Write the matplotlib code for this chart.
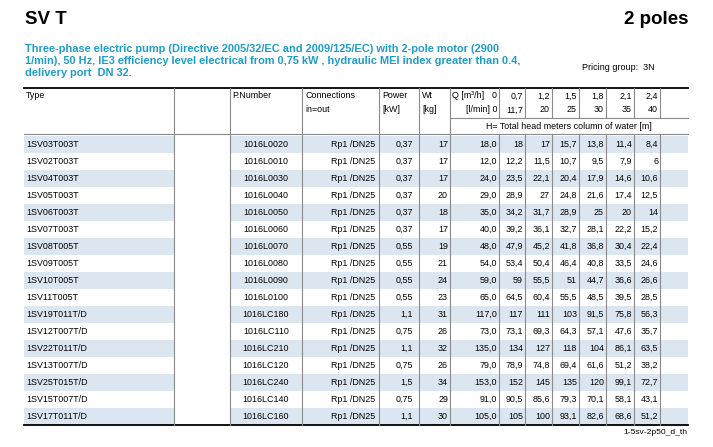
import matplotlib
matplotlib.use("Agg")
import matplotlib.pyplot as plt
from matplotlib.patches import Rectangle

plt.rcParams['font.family'] = ['Liberation Sans', 'DejaVu Sans']

types = ["1SV03T003T", "1SV02T003T", "1SV04T003T", "1SV05T003T", "1SV06T003T",
         "1SV07T003T", "1SV08T005T", "1SV09T005T", "1SV10T005T", "1SV11T005T",
         "1SV19T011T/D", "1SV12T007T/D", "1SV22T011T/D", "1SV13T007T/D",
         "1SV25T015T/D", "1SV15T007T/D", "1SV17T011T/D"]
pnumbers = ["1016L0020", "1016L0010", "1016L0030", "1016L0040", "1016L0050",
            "1016L0060", "1016L0070", "1016L0080", "1016L0090", "1016L0100",
            "1016LC180", "1016LC110", "1016LC210", "1016LC120", "1016LC240",
            "1016LC140", "1016LC160"]
connection = "Rp1 /DN25"
power = ["0,37", "0,37", "0,37", "0,37", "0,37", "0,37", "0,55", "0,55", "0,55",
         "0,55", "1,1", "0,75", "1,1", "0,75", "1,5", "0,75", "1,1"]
weight = [17, 17, 17, 20, 18, 17, 19, 21, 24, 23, 31, 26, 32, 26, 34, 29, 30]
q_m3h = ["0,7", "1,2", "1,5", "1,8", "2,1", "2,4"]
q_lmin = ["11,7", "20", "25", "30", "35", "40"]
head = [
    ["18,0", "18", "17", "15,7", "13,8", "11,4", "8,4"],
    ["12,0", "12,2", "11,5", "10,7", "9,5", "7,9", "6"],
    ["24,0", "23,5", "22,1", "20,4", "17,9", "14,6", "10,6"],
    ["29,0", "28,9", "27", "24,8", "21,6", "17,4", "12,5"],
    ["35,0", "34,2", "31,7", "28,9", "25", "20", "14"],
    ["40,0", "39,2", "36,1", "32,7", "28,1", "22,2", "15,2"],
    ["48,0", "47,9", "45,2", "41,8", "36,8", "30,4", "22,4"],
    ["54,0", "53,4", "50,4", "46,4", "40,8", "33,5", "24,6"],
    ["59,0", "59", "55,5", "51", "44,7", "36,6", "26,6"],
    ["65,0", "64,5", "60,4", "55,5", "48,5", "39,5", "28,5"],
    ["117,0", "117", "111", "103", "91,5", "75,8", "56,3"],
    ["73,0", "73,1", "69,3", "64,3", "57,1", "47,6", "35,7"],
    ["135,0", "134", "127", "118", "104", "86,1", "63,5"],
    ["79,0", "78,9", "74,8", "69,4", "61,6", "51,2", "38,2"],
    ["153,0", "152", "145", "135", "120", "99,1", "72,7"],
    ["91,0", "90,5", "85,6", "79,3", "70,1", "58,1", "43,1"],
    ["105,0", "105", "100", "93,1", "82,6", "68,6", "51,2"],
]

blue_text = ["Three-phase electric pump (Directive 2005/32/EC and 2009/125/EC) with 2-pole motor (2900",
             "1/min), 50 Hz, IE3 efficiency level electrical from 0,75 kW , hydraulic MEI index greater than 0.4,",
             "delivery port  DN 32."]

# ---- layout (pixel coords) ----
W, H = 713, 447
left, right = 24, 688
top_line = 88
hdr_bottom = 134
row_h = 17.0
vlines = [174, 230, 302, 379, 419, 450]
qcols = [450, 499, 525, 552, 579, 606, 634, 660]
shade = "#dce6f1"
grid = "#8a8a8a"
fs = 6.4

fig = plt.figure(figsize=(W / 100, H / 100), dpi=100)
ax = fig.add_axes([0, 0, 1, 1])
ax.set_xlim(0, W)
ax.set_ylim(H, 0)
ax.axis("off")

ax.text(left + 1, 20, "SV T", fontsize=13.5, fontweight="bold", va="center", ha="left")
ax.text(right, 20, "2 poles", fontsize=13.5, fontweight="bold", va="center", ha="right")
for i, line in enumerate(blue_text):
    ax.text(left + 1, 49 + i * 12, line, fontsize=7.9, fontweight="bold",
            color="#1f9dc9", va="center", ha="left")
ax.text(582, 68, "Pricing group:  3N", fontsize=6.5, va="center", ha="left")

# row shading
n = len(types)
y0 = hdr_bottom + 2
for i in range(n):
    if i % 2 == 0:
        y = y0 + i * row_h
        ax.add_patch(Rectangle((left, y), 174 - left, row_h, color=shade, lw=0))
        ax.add_patch(Rectangle((230, y), right - 230, row_h, color=shade, lw=0))
bottom = y0 + n * row_h

# lines
ax.plot([left, right], [top_line, top_line], color="black", lw=1.3)
ax.plot([left, right], [bottom, bottom], color="black", lw=1.3)
ax.plot([left, right], [hdr_bottom, hdr_bottom], color=grid, lw=0.8)
ax.plot([450, right], [118, 118], color=grid, lw=0.8)
for x in vlines:
    ax.plot([x, x], [top_line, bottom], color=grid, lw=0.8)
for x in qcols[1:]:
    ax.plot([x, x], [top_line, 118], color=grid, lw=0.8)
    ax.plot([x, x], [hdr_bottom, bottom], color=grid, lw=0.8)

# header
r1, r2 = 96, 110
ax.text(26, r1, "Type", fontsize=fs, va="center")
ax.text(232, r1, "P.Number", fontsize=fs, va="center")
ax.text(305, r1, "Connections", fontsize=fs, va="center")
ax.text(305, r2, "in=out", fontsize=fs, va="center")
ax.text(382, r1, "Power", fontsize=fs, va="center")
ax.text(382, r2, "[kW]", fontsize=fs, va="center")
ax.text(422, r1, "Wt", fontsize=fs, va="center")
ax.text(422, r2, "[kg]", fontsize=fs, va="center")
ax.text(452, r1, "Q [m³/h]", fontsize=fs, va="center")
ax.text(497, r1, "0", fontsize=fs, va="center", ha="right")
ax.text(497, r2, "[l/min] 0", fontsize=fs, va="center", ha="right")
for j in range(len(q_m3h)):
    xr = qcols[j + 2] - 2
    ax.text(xr, r1, q_m3h[j], fontsize=fs, va="center", ha="right")
    ax.text(xr, r2, q_lmin[j], fontsize=fs, va="center", ha="right")
ax.text((450 + right) / 2, 126.5, "H= Total head meters column of water [m]",
        fontsize=fs, va="center", ha="center")

# body
for i in range(n):
    yc = y0 + i * row_h + row_h / 2
    ax.text(26, yc, types[i], fontsize=fs, va="center")
    ax.text(266, yc, pnumbers[i], fontsize=fs, va="center", ha="center")
    ax.text(375, yc, connection, fontsize=fs, va="center", ha="right")
    ax.text(413, yc, power[i], fontsize=fs, va="center", ha="right")
    ax.text(448, yc, str(weight[i]), fontsize=fs, va="center", ha="right")
    for j in range(7):
        ax.text(qcols[j + 1] - 2, yc, head[i][j], fontsize=fs, va="center", ha="right")

ax.text(right - 1, bottom + 8, "1-5sv-2p50_d_th", fontsize=6.1, va="center", ha="right")

fig.savefig("out.png", dpi=100)
